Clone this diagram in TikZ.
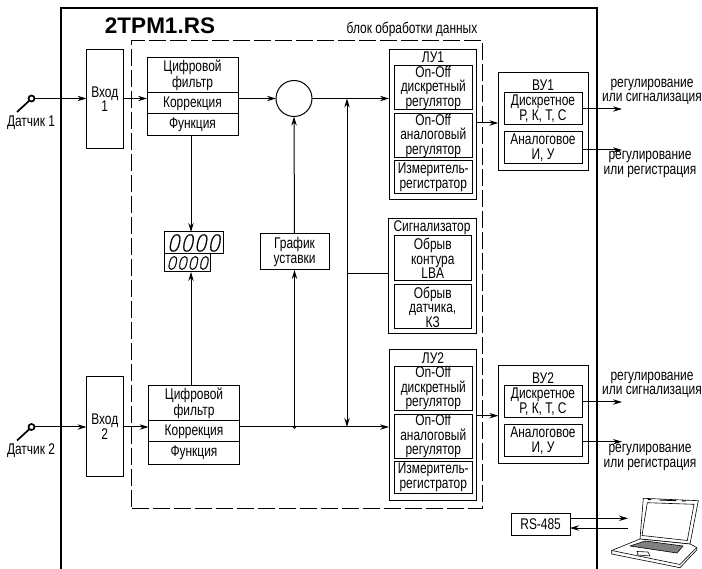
\documentclass[tikz,border=0pt]{standalone}
\usepackage{fontspec}
\setmainfont[FakeStretch=0.77]{Liberation Sans}
\newfontfamily\titlefont{Liberation Sans}
\newfontfamily\digfont[FakeSlant=0.22,FakeStretch=0.92,FakeBold=0.7]{DejaVu Sans ExtraLight}
\usetikzlibrary{arrows.meta}
\tikzset{
  box/.style={draw=black,line width=1pt,inner sep=0pt,outer sep=0pt,align=center,font=\fontsize{15.5}{14.4}\selectfont,fill=white},
  lbl/.style={inner sep=0pt,outer sep=0pt,align=center,font=\fontsize{15.5}{14.4}\selectfont},
  arr/.style={line width=1pt,-{Stealth[length=9pt,width=5.4pt]}},
  arrb/.style={line width=1pt,{Stealth[length=9pt,width=5.4pt]}-{Stealth[length=9pt,width=5.4pt]}},
  wire/.style={line width=1pt},
  sens/.style={circle,draw=black,line width=1.7pt,fill=white,minimum size=6pt,inner sep=0pt,outer sep=0pt},
  lap/.style={line width=.6pt,line join=round},
}
\newcommand\bx[6]{\node[box,minimum width={(#4)-(#2)},minimum height={(#5)-(#3)}] (#1) at ({((#2)+(#4))/2},{((#3)+(#5))/2}) {#6};}
\begin{document}
\begin{tikzpicture}[x=1pt,y=-1pt]
\useasboundingbox (0,0) rectangle (702,569);
% outer frame
\draw[line width=2.5pt,line join=miter] (61,569) -- (61,8) -- (597,8) -- (597,569);
\node[inner sep=0pt,font=\titlefont\bfseries\fontsize{22.5}{24}\selectfont] (title) at (160,26) {2TPM1.RS};
% data block
\node[draw=black,line width=1pt,dash pattern=on 17pt off 4pt,minimum width=350.5,minimum height=467,inner sep=0pt,outer sep=0pt] (blk) at (306.75,274.5) {};
\node[lbl] (blktxt) at (412,29.5) {блок обработки данных};
% levels
\coordinate (b1) at (200,98.5);
\coordinate (b2) at (200,427);
% inputs
\bx{v1}{86.5}{49.5}{123}{148.5}{Вход\\1}
\bx{v2}{86.5}{377}{123}{476.5}{Вход\\2}
% sensors
\node[sens] (s1) at (31.5,98.5) {};
\node[sens] (s2) at (31.5,427) {};
\coordinate (t1) at (17,112);
\coordinate (t2) at (17,440.5);
\draw[line width=1.7pt] (s1.south west) -- (t1);
\draw[line width=1.7pt] (s2.south west) -- (t2);
\node[lbl] (d1) at (31,123) {Датчик 1};
\node[lbl] (d2) at (31,450.5) {Датчик 2};
% filter 1
\bx{f1}{147}{58}{238}{93}{Цифровой\\фильтр}
\bx{k1}{147}{93}{238}{114}{Коррекция}
\bx{u1}{147}{114}{238}{135.5}{Функция}
% filter 2
\bx{f2}{148.5}{385.7}{239.5}{421}{Цифровой\\фильтр}
\bx{k2}{148.5}{421}{239.5}{441.7}{Коррекция}
\bx{u2}{148.5}{441.7}{239.5}{464}{Функция}
% comparator
\node[circle,draw=black,line width=1pt,minimum size=36pt,inner sep=0pt,outer sep=0pt] (cmp) at (294,98.5) {};
% display
\bx{da}{164}{232}{223}{254}{\digfont\fontsize{23}{23}\selectfont 0000}
\bx{db}{164}{254}{210.5}{272}{\digfont\fontsize{18}{18}\selectfont 0000}
\coordinate (dx) at (191,250);
% setpoint
\bx{gr}{260}{234}{329}{270}{График\\уставки}
% LU1
\bx{l1}{389}{49.5}{476.5}{200}{}
\node[lbl] (l1t) at (433,57.5) {ЛУ1};
\bx{l1a}{394}{66}{472.5}{110}{On-Off\\дискретный\\регулятор}
\bx{l1b}{394}{114}{472.5}{158}{On-Off\\аналоговый\\регулятор}
\bx{l1c}{394}{161}{472.5}{193.5}{Измеритель-\\регистратор}
% signal
\bx{sg}{388}{219}{476}{334}{}
\node[lbl] (sgt) at (432,228) {Сигнализатор};
\bx{sga}{394}{236}{471.5}{281}{Обрыв\\контура\\LBA}
\bx{sgb}{394}{285}{471.5}{329}{Обрыв\\датчика,\\КЗ}
% LU2
\bx{l2}{389}{349.3}{476.5}{500.7}{}
\node[lbl] (l2t) at (433,358) {ЛУ2};
\bx{l2a}{394}{366.3}{472.5}{410.3}{On-Off\\дискретный\\регулятор}
\bx{l2b}{394}{414.3}{472.5}{458.3}{On-Off\\аналоговый\\регулятор}
\bx{l2c}{394}{461}{472.5}{493.7}{Измеритель-\\регистратор}
% VU1
\bx{w1}{498.3}{73}{588}{170.5}{}
\node[lbl] (w1t) at (543,85) {ВУ1};
\bx{w1a}{504}{92.7}{582}{125}{Дискретное\\Р, К, Т, С}
\bx{w1b}{504}{131.5}{582}{164}{Аналоговое\\И, У}
% VU2
\bx{w2}{498.3}{365.7}{588}{463}{}
\node[lbl] (w2t) at (543,378) {ВУ2};
\bx{w2a}{504}{385.7}{582}{417.7}{Дискретное\\Р, К, Т, С}
\bx{w2b}{504}{424.3}{582}{456.7}{Аналоговое\\И, У}
% outputs
\coordinate (o1) at (622,109);
\coordinate (o2) at (622,150);
\coordinate (o3) at (622,402);
\coordinate (o4) at (622,441.7);
\node[lbl] (t1a) at (652,92) {регулирование\\или сигнализация};
\node[lbl] (t1b) at (650,164.5) {регулирование\\или регистрация};
\node[lbl] (t2a) at (652,385) {регулирование\\или сигнализация};
\node[lbl] (t2b) at (650,457.5) {регулирование\\или регистрация};
\draw[arr] (w1a.east |- o1) -- (o1);
\draw[arr] (w1b.east |- o2) -- (o2);
\draw[arr] (w2a.east |- o3) -- (o3);
\draw[arr] (w2b.east |- o4) -- (o4);
% RS-485
\bx{rs}{511.3}{513.3}{570}{535}{RS-485}
\coordinate (r1) at (628,518.3);
\coordinate (r2) at (628,528);
\draw[arr] (rs.east |- r1) -- (r1);
\draw[arr] (r2) -- (rs.east |- r2);
% connectors
\draw[arr] (s1.east) -- (v1.west |- s1);
\draw[arr] (s2.east) -- (v2.west |- s2);
\draw[arr] (v1.east |- b1) -- (k1.west |- b1);
\draw[arr] (v2.east |- b2) -- (k2.west |- b2);
\draw[arr] (k1.east |- b1) -- (cmp.west);
\draw[arr] (cmp.east) -- (l1.west |- b1);
\draw[arr] (k2.east |- b2) -- (l2.west |- b2);
\draw[arr] (gr.north) -- (cmp.south);
\coordinate (jn) at (gr.south |- b2);
\fill (jn) circle (1.8pt);
\draw[arr] (jn) -- (gr.south);
\draw[arr] (u1.south -| dx) -- (da.north -| dx);
\draw[arr] (f2.north -| dx) -- (db.south -| dx);
\coordinate (bus) at (347,274);
\draw[arrb] (bus |- b1) -- (bus |- b2);
\draw[wire] (sg.west |- bus) -- (bus);
\draw[arr] (l1.east |- 0,123) -- (w1.west |- 0,123);
\draw[arr] (l2.east |- 0,415.7) -- (w2.west |- 0,415.7);
% laptop
\draw[lap,fill=white] (643.3,498.3) -- (698.3,500.7) -- (690,544) -- (640,539) -- cycle;
\draw[lap] (647.3,502.7) -- (694,504.3) -- (687.3,540.5) -- (642,535.5) -- cycle;
\draw[line width=1pt] (648,499.5) -- (651,499.6) (660,500) -- (676,500.6) (682,500.8) -- (686,501);
\draw[lap,fill=white] (640,539) -- (611.7,550.5) -- (611.7,554) -- (680,567.7) -- (696.7,550) -- (696.7,547.5) -- (690,544) -- cycle;
\draw[lap] (611.7,550.5) -- (680,564.5) -- (696.7,547.5);
\draw[lap,fill=black!50] (630,546) -- (645,541) -- (683,546) -- (677,553) -- cycle;
\draw[lap] (637,551.5) -- (648,552) -- (650,556) -- (638,555) -- cycle;
\end{tikzpicture}
\end{document}
